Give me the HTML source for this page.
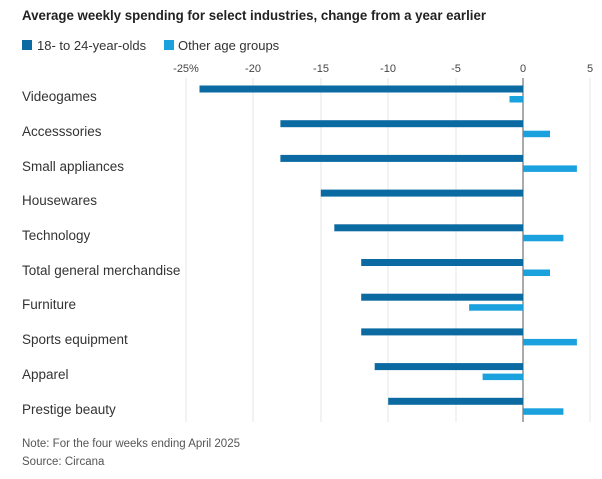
<!DOCTYPE html>
<html><head><meta charset="utf-8"><style>
body{margin:0;background:#fff;font-family:"Liberation Sans",sans-serif;}
</style></head><body>
<svg width="602" height="474" xmlns="http://www.w3.org/2000/svg" font-family="Liberation Sans, sans-serif">
<text x="22" y="20" font-size="14" font-weight="bold" fill="#222" textLength="464" lengthAdjust="spacingAndGlyphs">Average weekly spending for select industries, change from a year earlier</text>
<rect x="22" y="40" width="10" height="10" fill="#0b6aa2"/>
<text x="37" y="50" font-size="13" fill="#333">18- to 24-year-olds</text>
<rect x="164" y="40" width="10" height="10" fill="#1ba2de"/>
<text x="178" y="50" font-size="13" fill="#333">Other age groups</text>
<g font-size="11" fill="#444" text-anchor="middle">
<text x="186" y="72">-25%</text><text x="253" y="72">-20</text><text x="321" y="72">-15</text>
<text x="388" y="72">-10</text><text x="456" y="72">-5</text><text x="523" y="72">0</text><text x="590" y="72">5</text>
</g>
<g stroke="#e4e4e4" stroke-width="1">
<line x1="186" y1="78" x2="186" y2="422"/><line x1="253" y1="78" x2="253" y2="422"/>
<line x1="321" y1="78" x2="321" y2="422"/><line x1="388" y1="78" x2="388" y2="422"/>
<line x1="456" y1="78" x2="456" y2="422"/><line x1="590" y1="78" x2="590" y2="422"/>
</g>
<line x1="523" y1="78" x2="523" y2="422" stroke="#555" stroke-width="1"/>
<g font-size="13.5" fill="#333">
<text x="22" y="101">Videogames</text>
<text x="22" y="136">Accesssories</text>
<text x="22" y="171">Small appliances</text>
<text x="22" y="205">Housewares</text>
<text x="22" y="240">Technology</text>
<text x="22" y="275">Total general merchandise</text>
<text x="22" y="309">Furniture</text>
<text x="22" y="344">Sports equipment</text>
<text x="22" y="379">Apparel</text>
<text x="22" y="414">Prestige beauty</text>
</g>
<g fill="#0b6aa2">
<rect x="199.5" y="85.5" width="323.5" height="7"/>
<rect x="280.4" y="120.2" width="242.6" height="7"/>
<rect x="280.4" y="154.9" width="242.6" height="7"/>
<rect x="320.8" y="189.6" width="202.2" height="7"/>
<rect x="334.3" y="224.3" width="188.7" height="7"/>
<rect x="361.2" y="259" width="161.8" height="7"/>
<rect x="361.2" y="293.7" width="161.8" height="7"/>
<rect x="361.2" y="328.4" width="161.8" height="7"/>
<rect x="374.7" y="363.1" width="148.3" height="7"/>
<rect x="388.2" y="397.8" width="134.8" height="7"/>
</g>
<g fill="#1ba2de">
<rect x="509.5" y="96" width="13.5" height="6.5"/>
<rect x="523" y="130.7" width="27" height="6.5"/>
<rect x="523" y="165.4" width="53.9" height="6.5"/>
<rect x="523" y="234.8" width="40.4" height="6.5"/>
<rect x="523" y="269.5" width="27" height="6.5"/>
<rect x="469.1" y="304.2" width="53.9" height="6.5"/>
<rect x="523" y="338.9" width="53.9" height="6.5"/>
<rect x="482.6" y="373.6" width="40.4" height="6.5"/>
<rect x="523" y="408.3" width="40.4" height="6.5"/>
</g>
<text x="22" y="447" font-size="11.5" fill="#555">Note: For the four weeks ending April 2025</text>
<text x="22" y="465" font-size="11.5" fill="#555">Source: Circana</text>
</svg>
</body></html>
